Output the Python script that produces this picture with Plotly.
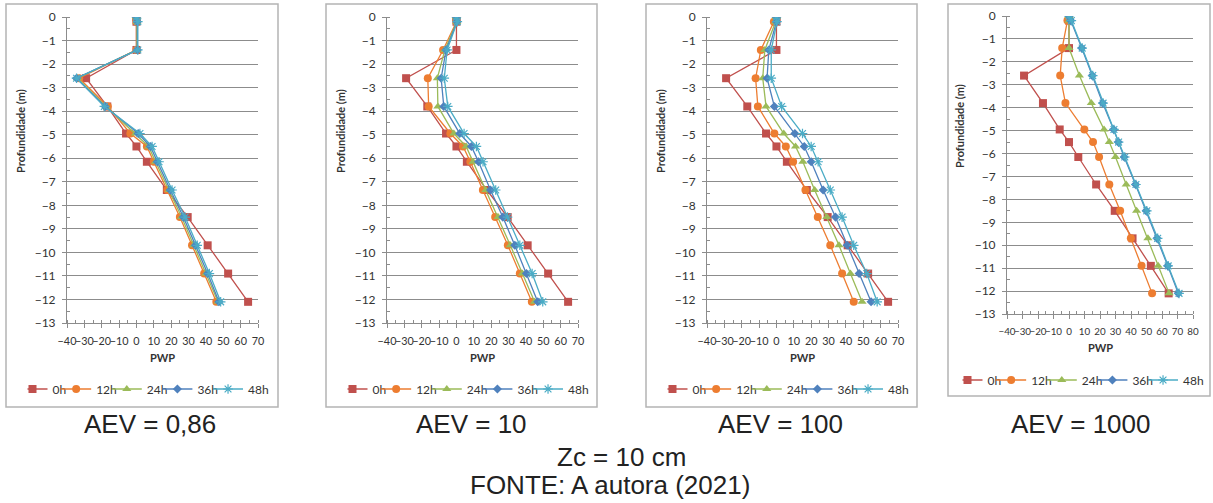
import plotly.graph_objects as go

# ---------------------------------------------------------------- data
depth = [0, -0.2, -1.4, -2.6, -3.8, -4.95, -5.5, -6.15, -7.35, -8.5, -9.7, -10.9, -12.1]
series_names = ["0h", "12h", "24h", "36h", "48h"]
panel_titles = ["AEV = 0,86", "AEV = 10", "AEV = 100", "AEV = 1000"]
x_ranges = [[-40, 70], [-40, 70], [-40, 70], [-40, 80]]

# initial profile (identical in every panel)
pwp_0h = [0, 0, 0, -29, -16.8, -6, 0, 6, 17.5, 29.5, 41, 52.8, 64.3]

# AEV = 0,86
aev086_12h = [0, 0, 0, -33, -16.5, -3.5, 6, 10, 17.8, 25, 32, 39, 46]
aev086_24h = [0, 0.3, 0.3, -34, -17.5, -0.5, 7, 11, 18.8, 26, 33, 40, 47]
aev086_36h = [0, 0.5, 0.5, -34.5, -18, 1, 8, 12, 19.5, 27, 34, 41, 47.5]
aev086_48h = [0, 0.8, 0.8, -34.5, -18.5, 2, 9, 13, 20.5, 28, 35, 42, 48.5]

# AEV = 10
aev10_12h = [0, 0, -7.7, -16.5, -16, -3.5, 3.8, 8, 15.2, 22.3, 29.6, 36.5, 43.4]
aev10_24h = [0, 0.2, -6.7, -11, -10.7, -1.5, 5.6, 9.6, 16.9, 24, 31, 38, 45]
aev10_36h = [0, 0.3, -6, -8.8, -7.3, 1.9, 8.6, 12.7, 19.6, 26.7, 33.6, 40.3, 46.8]
aev10_48h = [0, 0.5, -5.4, -7, -5, 4.4, 11.5, 15.3, 22.6, 29.4, 36.5, 43.6, 49.7]

# AEV = 100
aev100_12h = [0, -1.5, -9, -12, -10.7, -1.2, 5.4, 9.6, 16.7, 23.8, 31, 37.8, 44.5]
aev100_24h = [0, -0.5, -6.7, -7.9, -6, 4.2, 11, 15.2, 22, 29, 36, 42.6, 49.3]
aev100_36h = [0, 0, -4.4, -5.4, -1.2, 10.6, 16, 20, 26.9, 34, 40.7, 47.6, 54.5]
aev100_48h = [0, 0.3, -3, -3, 3, 15, 20, 24, 31, 37.8, 44.5, 52, 58]

# AEV = 1000
aev1000_12h = [0, -1, -4.4, -5.7, -2.3, 9.9, 15.5, 19.4, 26, 33, 39.9, 46.8, 53.6]
aev1000_24h = [0, 0, 0, 6.7, 14.4, 22.6, 26, 30, 36.9, 43.6, 50.9, 57.5, 64.6]
aev1000_36h = [0, 1.1, 8.2, 15, 21.7, 28.8, 31.8, 35.6, 42.9, 49.8, 56.8, 63.7, 70.5]
aev1000_48h = [0, 1.5, 8.5, 15.3, 22, 29, 32, 36, 43.2, 50.2, 57.2, 64, 71]

panels = [
    [pwp_0h, aev086_12h, aev086_24h, aev086_36h, aev086_48h],
    [pwp_0h, aev10_12h, aev10_24h, aev10_36h, aev10_48h],
    [pwp_0h, aev100_12h, aev100_24h, aev100_36h, aev100_48h],
    [pwp_0h, aev1000_12h, aev1000_24h, aev1000_36h, aev1000_48h],
]

# ---------------------------------------------------------------- styling
W, H = 1213, 503
colors = ["#C0504D", "#ED7D31", "#9BBB59", "#4F81BD", "#4BACC6"]
symbols = ["square", "circle", "triangle-up", "diamond", "asterisk-open"]
msizes = [8, 8, 8, 7, 8]
GRID = "#8C8C8C"
TXT = "#333333"
FONT = "Lato, 'Open Sans', sans-serif"


def fx(px):
    return px / W


def fy(py):
    return 1 - py / H


# plot areas (left, right, top, bottom) and outer frames, in pixels
areas = [(67, 258, 17, 323), (387, 578, 17, 323), (707, 898, 17, 323), (1007, 1193, 16, 314)]
frames = [(6, 278, 4, 407), (326, 597, 4, 407), (646, 917, 4, 407), (948, 1210, 4, 396)]
legend_pos = [(151, 389), (471, 389), (791, 389), (1086, 380)]
ytitle_pos = [(20, 131), (340, 131), (660, 131), (960, 126)]
xtitle_y = [357, 357, 357, 347]
xtick_size = [10.8, 10.8, 10.8, 9.8]
caption_x = [150, 471, 780, 1081]

fig = go.Figure()
layout = dict(
    width=W, height=H,
    margin=dict(l=0, r=0, t=0, b=0, pad=0, autoexpand=False),
    paper_bgcolor="white", plot_bgcolor="white",
    showlegend=True,
    shapes=[], annotations=[],
)

for p, series in enumerate(panels):
    k = "" if p == 0 else str(p + 1)
    lg = "legend" + k
    for s, vals in enumerate(series):
        fig.add_trace(go.Scatter(
            x=vals, y=depth, name=series_names[s],
            mode="lines+markers",
            xaxis="x" + k, yaxis="y" + k, legend=lg,
            line=dict(color=colors[s], width=1.3),
            marker=dict(symbol=symbols[s], size=msizes[s], color=colors[s],
                        line=dict(color=colors[s], width=1.2 if s == 4 else 0)),
        ))
    l, r, t, b = areas[p]
    layout["xaxis" + k] = dict(
        domain=[fx(l), fx(r)], anchor="y" + k, range=x_ranges[p],
        dtick=10, tickangle=0, showgrid=False, zeroline=False,
        showline=True, linecolor=GRID, linewidth=1,
        ticks="outside", ticklen=4, tickcolor=GRID,
        minor=dict(dtick=5, ticks="inside", ticklen=3, tickcolor=GRID),
        tickfont=dict(family=FONT, size=xtick_size[p], color=TXT),
        ticklabelstandoff=4, fixedrange=True,
    )
    layout["yaxis" + k] = dict(
        domain=[fy(b), fy(t)], anchor="x" + k, range=[-13, 0],
        dtick=1, showgrid=True, gridcolor=GRID, gridwidth=1, zeroline=False,
        showline=True, linecolor=GRID, linewidth=1,
        ticks="outside", ticklen=4, tickcolor=GRID,
        minor=dict(dtick=0.5, ticks="inside", ticklen=3, tickcolor=GRID, showgrid=False),
        tickfont=dict(family=FONT, size=12, color=TXT),
        ticklabelstandoff=4, fixedrange=True,
    )
    lx, ly = legend_pos[p]
    layout[lg] = dict(
        orientation="h", x=fx(lx), y=fy(ly), xanchor="center", yanchor="middle",
        xref="paper", yref="paper", itemwidth=30, tracegroupgap=0,
        indentation=-15,
        font=dict(family=FONT, size=12, color=TXT),
        bgcolor="rgba(0,0,0,0)",
    )
    fl, fr, ft, fb = frames[p]
    layout["shapes"].append(dict(
        type="rect", xref="paper", yref="paper",
        x0=fx(fl), x1=fx(fr), y0=fy(fb), y1=fy(ft),
        line=dict(color="#B4B4B4", width=1.5), layer="below",
    ))
    tx, ty = ytitle_pos[p]
    layout["annotations"].append(dict(
        text="<b>Profundidade (m)</b>", textangle=-90, showarrow=False,
        xref="paper", yref="paper", x=fx(tx), y=fy(ty),
        xanchor="center", yanchor="middle",
        font=dict(family=FONT, size=11, color=TXT),
    ))
    layout["annotations"].append(dict(
        text="<b>PWP</b>", showarrow=False,
        xref="paper", yref="paper", x=fx((l + r) / 2), y=fy(xtitle_y[p]),
        xanchor="center", yanchor="middle",
        font=dict(family=FONT, size=11, color=TXT),
    ))
    layout["annotations"].append(dict(
        text=panel_titles[p], showarrow=False,
        xref="paper", yref="paper", x=fx(caption_x[p]), y=fy(424),
        xanchor="center", yanchor="middle",
        font=dict(family="Liberation Sans, Arial, sans-serif", size=26, color="#222222"),
    ))

for txt, cx, cy in [("Zc = 10 cm", 621, 457), ("FONTE: A autora (2021)", 610, 485)]:
    layout["annotations"].append(dict(
        text=txt, showarrow=False, xref="paper", yref="paper",
        x=fx(cx), y=fy(cy), xanchor="center", yanchor="middle",
        font=dict(family="Liberation Sans, Arial, sans-serif", size=26, color="#222222"),
    ))

fig.update_layout(**layout)
fig.write_html("out.html")
